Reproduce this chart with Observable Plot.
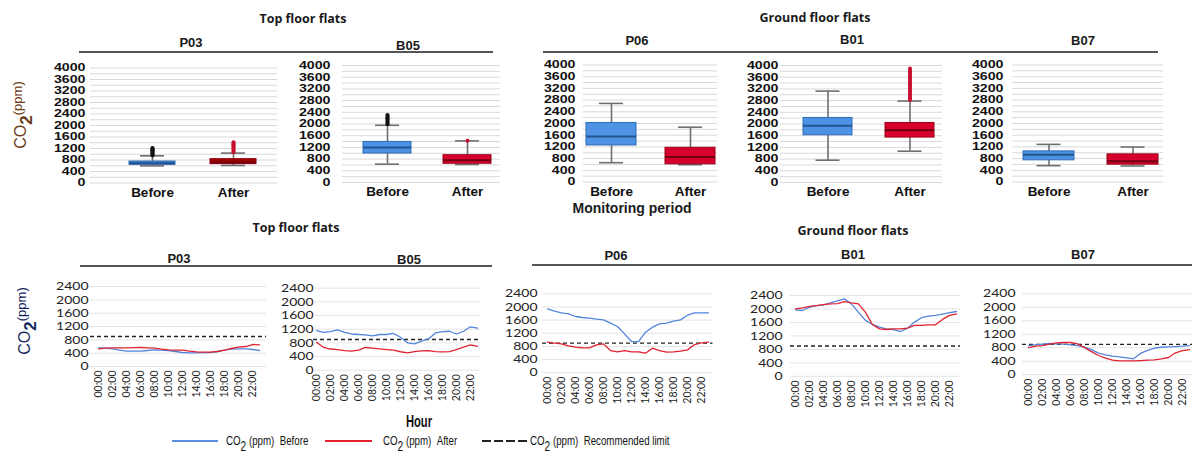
<!DOCTYPE html>
<html><head><meta charset="utf-8">
<script src="https://cdn.jsdelivr.net/npm/d3@7"></script>
<script src="https://cdn.jsdelivr.net/npm/@observablehq/plot@0.6"></script>
<style>
html,body{margin:0;padding:0;background:#fff;}
#wrap{position:relative;width:1192px;height:461px;overflow:hidden;background:#fff;}
.t{position:absolute;transform:translate(-50%,-50%);white-space:nowrap;font-family:"Open Sans","Liberation Sans",sans-serif;font-weight:700;font-size:12.5px;color:#1a1a1a;}
.p{position:absolute;transform:translate(-50%,-50%);white-space:nowrap;font-family:"Liberation Sans",Arial,sans-serif;font-weight:700;font-size:13px;color:#1a1a1a;}
.hl{position:absolute;height:0;border-top:2px solid #555;}
.yt{position:absolute;transform:translate(-50%,-50%) rotate(-90deg);white-space:nowrap;font-family:"Liberation Sans",Arial,sans-serif;font-size:16px;}
.yt sub{font-size:17px;font-weight:700;vertical-align:-6px;}
.yt small{font-size:13px;vertical-align:4px;}
.lg{position:absolute;height:2px;}
.lgd{position:absolute;height:1.6px;background:repeating-linear-gradient(to right,#222 0 9px,transparent 9px 12px);}
.lt{position:absolute;transform:translateY(-50%) scaleX(0.72);transform-origin:left center;white-space:nowrap;font-family:"Liberation Sans",Arial,sans-serif;font-size:13.5px;line-height:14px;color:#111;}
.lt sub{font-size:14px;line-height:0;vertical-align:-6px;}
.hr{position:absolute;transform:translate(-50%,-50%) scaleX(0.7);white-space:nowrap;font-family:"Liberation Sans",Arial,sans-serif;font-weight:700;font-size:16px;line-height:16px;color:#111;}
</style></head>
<body><div id="wrap">
<div class="t" style="left:303px;top:18px">Top floor flats</div>
<div class="t" style="left:815px;top:17px">Ground floor flats</div>
<div class="p" style="left:191px;top:42px">P03</div>
<div class="p" style="left:408px;top:45px">B05</div>
<div class="p" style="left:637px;top:40px">P06</div>
<div class="p" style="left:852px;top:39px">B01</div>
<div class="p" style="left:1083px;top:40px">B07</div>
<div class="hl" style="left:79px;width:414px;top:51px"></div>
<div class="hl" style="left:543px;width:615px;top:51px"></div>
<div class="p" style="left:632px;top:208px;font-size:14px">Monitoring period</div>
<div class="t" style="left:296px;top:227px">Top floor flats</div>
<div class="t" style="left:853px;top:230px">Ground floor flats</div>
<div class="p" style="left:179px;top:258px">P03</div>
<div class="p" style="left:409px;top:259px">B05</div>
<div class="p" style="left:616px;top:255px">P06</div>
<div class="p" style="left:853px;top:254px">B01</div>
<div class="p" style="left:1083px;top:254px">B07</div>
<div class="hl" style="left:80px;width:412px;top:265px"></div>
<div class="hl" style="left:532px;width:660px;top:264px"></div>
<div class="yt" style="left:23px;top:115px;color:#6b3a14">CO<sub>2</sub><small>(ppm)</small></div>
<div class="yt" style="left:27px;top:321px;color:#14285e">CO<sub>2</sub><small>(ppm)</small></div>
<div class="hr" style="left:419px;top:422px">Hour</div>
<div class="lg" style="left:172px;top:440px;width:46px;background:#5b8fe0"></div>
<div class="lt" style="left:226px;top:441px">CO<sub>2</sub> (ppm)&nbsp;&nbsp;Before</div>
<div class="lg" style="left:325px;top:440px;width:47px;background:#e2232f"></div>
<div class="lt" style="left:383px;top:441px">CO<sub>2</sub> (ppm)&nbsp;&nbsp;After</div>
<div class="lgd" style="left:482px;top:440px;width:45px"></div>
<div class="lt" style="left:530px;top:441px">CO<sub>2</sub> (ppm)&nbsp;&nbsp;Recommended limit</div>
</div>
<script>
// ---------- DATA ----------
const periods = ["Before", "After"];
const boxTicks = [0, 400, 800, 1200, 1600, 2000, 2400, 2800, 3200, 3600, 4000];
const boxGrid = [0, 200, 400, 600, 800, 1000, 1200, 1400, 1600, 1800, 2000, 2200, 2400, 2600, 2800, 3000, 3200, 3400, 3600, 3800, 4000];

// box stats: [whisker low, Q1, median, Q3, whisker high]
const p03BoxBefore = [597, 632, 690, 748, 946];
const p03BoxAfter  = [610, 655, 713, 830, 1040];
const b05BoxBefore = [627, 990, 1195, 1388, 1956];
const b05BoxAfter  = [615, 640, 763, 934, 1422];
const p06BoxBefore = [660, 1249, 1555, 2019, 2687];
const p06BoxAfter  = [590, 604, 853, 1170, 1872];
const b01BoxBefore = [763, 1615, 1944, 2206, 3125];
const b01BoxAfter  = [1070, 1536, 1785, 2035, 2785];
const b07BoxBefore = [559, 741, 934, 1047, 1286];
const b07BoxAfter  = [548, 593, 707, 945, 1195];

// outliers
const p03OutBefore = [960, 990, 1020, 1050, 1080, 1110, 1140, 1170, 1200, 1220];
const p03OutAfter  = [1070, 1110, 1150, 1190, 1230, 1270, 1310, 1350, 1390, 1420];
const b05OutBefore = [1990, 2030, 2070, 2110, 2150, 2190, 2230, 2270, 2310];
const b05OutAfter  = [1430];
const b01OutAfter  = [2820, 2880, 2940, 3000, 3060, 3120, 3180, 3240, 3300, 3360, 3420, 3480, 3540, 3600, 3660, 3720, 3780, 3840, 3900];

// hourly profiles
const hours = ["00:00","01:00","02:00","03:00","04:00","05:00","06:00","07:00","08:00","09:00","10:00","11:00",
               "12:00","13:00","14:00","15:00","16:00","17:00","18:00","19:00","20:00","21:00","22:00","23:00"];
const hourTicks = ["00:00","02:00","04:00","06:00","08:00","10:00","12:00","14:00","16:00","18:00","20:00","22:00"];
const lineTicks = [0, 400, 800, 1200, 1600, 2000, 2400];
const recommendedLimit = 900;

const p03Before = [560,550,530,490,460,460,460,480,500,490,480,450,420,410,410,415,420,450,490,520,530,530,510,480];
const p03After  = [530,550,560,560,560,565,570,560,550,520,500,490,490,460,440,430,430,450,490,540,580,600,660,650];
const b05Before = [1160,1110,1130,1180,1110,1060,1045,1035,1005,1045,1045,1075,965,800,770,850,915,1090,1130,1140,1060,1140,1270,1230];
const b05After  = [820,670,620,600,575,560,590,665,645,625,605,585,540,505,545,565,575,545,535,545,600,675,740,700];
const p06Before = [1942,1872,1820,1790,1709,1679,1658,1628,1608,1506,1405,1182,948,948,1232,1384,1486,1506,1567,1608,1750,1820,1820,1820];
const p06After  = [928,897,877,816,775,755,755,847,877,674,633,674,633,633,593,745,674,623,633,654,694,857,907,928];
const b01Before = [1975,1955,2050,2100,2120,2180,2240,2300,2150,1900,1660,1540,1460,1410,1390,1330,1430,1610,1740,1790,1810,1850,1890,1925];
const b01After  = [2005,2035,2080,2100,2130,2150,2160,2220,2180,2150,1900,1530,1410,1390,1410,1410,1430,1510,1510,1530,1530,1690,1810,1855];
const b07Before = [865,885,905,925,915,905,885,865,815,745,640,590,550,530,500,470,630,720,785,815,825,835,845,865];
const b07After  = [805,845,865,905,945,955,955,915,805,685,570,490,430,410,410,410,420,430,440,470,510,650,715,745];

// ---------- LAYOUT ----------
const W = 1200, H = 461;
const fmt = d => String(d);
const wrap = document.getElementById("wrap");
function place(svg) {
  svg.style.position = "absolute"; svg.style.left = "0"; svg.style.top = "0";
  svg.style.maxWidth = "none"; svg.style.background = "transparent";
  wrap.appendChild(svg);
}
// stretch y tick labels horizontally (reference uses tall, tightly packed numerals)
function stretchY(svg, size, digitW) {
  svg.querySelectorAll('[aria-label^="y-axis"] text').forEach(t => {
    t.setAttribute("font-size", size);
    t.style.fontSize = size + "px";
    const n = (t.textContent || "").length;
    t.setAttribute("textLength", n * digitW);
    t.setAttribute("lengthAdjust", "spacingAndGlyphs");
  });
}

const boxPanels = [
  {x0:90,  x1:277,  top:67.5, bot:182.5, labR:85,   cB:152,  cA:233,  w:46, before:p03BoxBefore, after:p03BoxAfter, outB:p03OutBefore, outA:p03OutAfter, fillB:"#4680d0", fillA:"#a00000"},
  {x0:342, x1:500,  top:65,   bot:182,   labR:330,  cB:387,  cA:467,  w:48, before:b05BoxBefore, after:b05BoxAfter, outB:b05OutBefore, outA:b05OutAfter, fillB:"#4d92e3", fillA:"#d7002c"},
  {x0:583, x1:717,  top:64.5, bot:181.5, labR:575,  cB:611,  cA:690,  w:50, before:p06BoxBefore, after:p06BoxAfter, outB:[], outA:[], fillB:"#4d92e3", fillA:"#d7002c"},
  {x0:780, x1:942,  top:65,   bot:182,   labR:778,  cB:827,  cA:909,  w:49, before:b01BoxBefore, after:b01BoxAfter, outB:[], outA:b01OutAfter, fillB:"#4d92e3", fillA:"#d7002c"},
  {x0:1012,x1:1163, top:64.5, bot:181.5, labR:1003, cB:1048, cA:1132, w:51, before:b07BoxBefore, after:b07BoxAfter, outB:[], outA:[], fillB:"#4d92e3", fillA:"#d7002c"}
];

for (const c of boxPanels) {
  const step = c.cA - c.cB;
  const pi = 1 - c.w / step;
  const stats = [
    {period:"Before", lo:c.before[0], q1:c.before[1], med:c.before[2], q3:c.before[3], hi:c.before[4], fill:c.fillB, edge:"#2f6cb8", medc:"#26548f"},
    {period:"After",  lo:c.after[0],  q1:c.after[1],  med:c.after[2],  q3:c.after[3],  hi:c.after[4],  fill:c.fillA, edge:"#9a0018", medc:"#6e0010"}
  ];
  const outs = [
    ...c.outB.map(v => ({period:"Before", v, col:"#111"})),
    ...c.outA.map(v => ({period:"After", v, col:"#c8102e"}))
  ];
  const cap = Math.max(0, (c.w - 24) / 2);
  const svg = Plot.plot({
    width: W, height: H,
    marginLeft: c.x0, marginRight: W - c.x1, marginTop: c.top, marginBottom: H - c.bot,
    style: {background:"transparent", fontFamily:"'Liberation Sans', Arial, sans-serif", fontWeight:"bold", fontSize:"13.5px", color:"#111"},
    x: {type:"band", domain: periods, range:[c.cB - step/2, c.cA + step/2], paddingInner: pi, paddingOuter: pi/2, tickSize:0, tickPadding:4, label:null},
    y: {domain:[0, 4000], ticks: boxTicks, tickFormat: fmt, tickSize:0, tickPadding: c.x0 - c.labR, label:null},
    color: {type:"identity"},
    marks: [
      Plot.ruleY(boxGrid, {stroke:"#d9d9d9", strokeWidth:1}),
      Plot.ruleX(stats, {x:"period", y1:"lo", y2:"hi", stroke:"#6f6f6f", strokeWidth:1.6}),
      Plot.tickY(stats, {x:"period", y:"lo", stroke:"#6f6f6f", strokeWidth:1.6, insetLeft:cap, insetRight:cap}),
      Plot.tickY(stats, {x:"period", y:"hi", stroke:"#6f6f6f", strokeWidth:1.6, insetLeft:cap, insetRight:cap}),
      Plot.barY(stats, {x:"period", y1:"q1", y2:"q3", fill:"fill", stroke:"edge", strokeWidth:1}),
      Plot.tickY(stats, {x:"period", y:"med", stroke:"medc", strokeWidth:2}),
      Plot.dot(outs, {x:"period", y:"v", r:2, fill:"col", stroke:null})
    ]
  });
  stretchY(svg, 10.5, 7.9);
  place(svg);
}

const linePanels = [
  {x00:90,   x23:266,   top:286,   bot:366,   labR:88,   b:p03Before, a:p03After},
  {x00:313,  x23:480,   top:287.7, bot:369.7, labR:313,  b:b05Before, a:b05After},
  {x00:542,  x23:712.5, top:293.3, bot:372.2, labR:537,  b:p06Before, a:p06After},
  {x00:790,  x23:960,   top:295,   bot:375.8, labR:782,  b:b01Before, a:b01After},
  {x00:1022, x23:1194,  top:293.3, bot:374.2, labR:1015, b:b07Before, a:b07After}
];

for (const c of linePanels) {
  const svg = Plot.plot({
    width: W, height: H,
    marginLeft: c.x00, marginRight: W - c.x23, marginTop: c.top, marginBottom: H - c.bot,
    style: {background:"transparent", fontFamily:"Lato, 'Open Sans', sans-serif", fontSize:"14px", color:"#222"},
    x: {type:"point", domain: hours, padding:0, ticks: hourTicks, tickRotate:-90, tickSize:0, tickPadding:4, label:null},
    y: {domain:[0, 2400], ticks: lineTicks, tickFormat: fmt, tickSize:0, tickPadding: c.x00 - c.labR, label:null},
    marks: [
      Plot.ruleY(lineTicks, {stroke:"#e4e4e4", strokeWidth:1}),
      Plot.ruleY([recommendedLimit], {stroke:"#222", strokeWidth:1.4, strokeDasharray:"4,3"}),
      Plot.lineY(c.b, {x: hours, stroke:"#5285dc", strokeWidth:1.3}),
      Plot.lineY(c.a, {x: hours, stroke:"#e2232f", strokeWidth:1.3})
    ]
  });
  svg.querySelectorAll('[aria-label^="x-axis"]').forEach(g => { g.style.fontSize = "10.5px"; g.setAttribute("font-size", "10.5"); });
  stretchY(svg, 11.5, 8.1);
  place(svg);
}
</script>
</body></html>
